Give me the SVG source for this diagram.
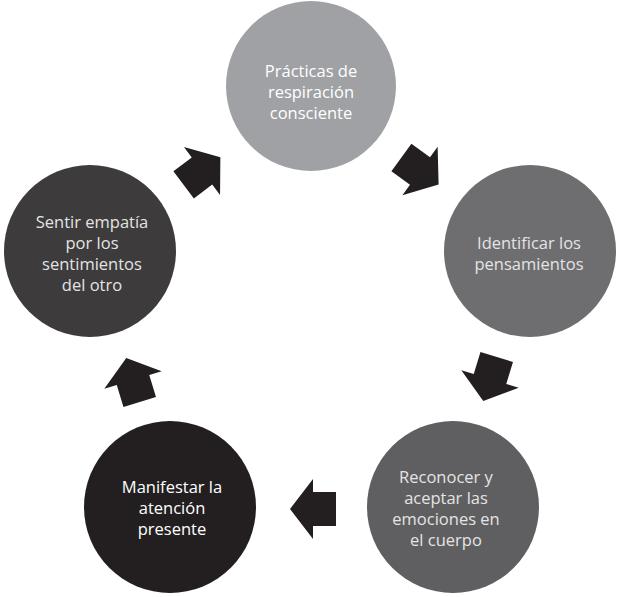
<svg xmlns="http://www.w3.org/2000/svg" width="618" height="597" viewBox="0 0 618 597">
<style>
  text { font-family: "Open Sans", "Liberation Sans", sans-serif; font-size: 16.5px; text-anchor: middle; }
  .lt { fill: #ffffff; }
  .lg { fill: #e4e4e4; }
  .arrow { fill: #231f20; }
</style>
<defs>
  <polygon id="blk" points="-23,-17 0,-17 0,-30 23,0 0,30 0,17 -23,17"/>
</defs>
<rect width="618" height="597" fill="#ffffff"/>
<g id="connectors">
  <use href="#blk" class="arrow" transform="translate(202,171) rotate(-37)"/>
  <use href="#blk" class="arrow" transform="translate(420,171) rotate(36)"/>
  <use href="#blk" class="arrow" transform="translate(490,379) rotate(107)"/>
  <use href="#blk" class="arrow" transform="translate(313,509) rotate(180)"/>
  <use href="#blk" class="arrow" transform="translate(133,380) rotate(253)"/>
</g>
<g id="n1">
  <circle cx="311" cy="86" r="85" fill="#a0a1a4"/>
  <text class="lt" x="311" y="77">Prácticas de</text>
  <text class="lt" x="311" y="98">respiración</text>
  <text class="lt" x="311" y="119">consciente</text>
</g>
<g id="n2">
  <circle cx="530" cy="251" r="86" fill="#6e6e70"/>
  <text class="lg" x="529" y="249">Identificar los</text>
  <text class="lg" x="529" y="270">pensamientos</text>
</g>
<g id="n3">
  <circle cx="453" cy="507" r="86" fill="#5f5f61"/>
  <text class="lg" x="446" y="483">Reconocer y</text>
  <text class="lg" x="446" y="504">aceptar las</text>
  <text class="lg" x="446" y="525">emociones en</text>
  <text class="lg" x="446" y="546">el cuerpo</text>
</g>
<g id="n4">
  <circle cx="170" cy="507" r="86" fill="#231f20"/>
  <text class="lt" x="172" y="493">Manifestar la</text>
  <text class="lt" x="172" y="514">atención</text>
  <text class="lt" x="172" y="535">presente</text>
</g>
<g id="n5">
  <circle cx="90" cy="251" r="86" fill="#3d3b3c"/>
  <text class="lg" x="92" y="228">Sentir empatía</text>
  <text class="lg" x="92" y="249">por los</text>
  <text class="lg" x="92" y="270">sentimientos</text>
  <text class="lg" x="92" y="291">del otro</text>
</g>
</svg>
